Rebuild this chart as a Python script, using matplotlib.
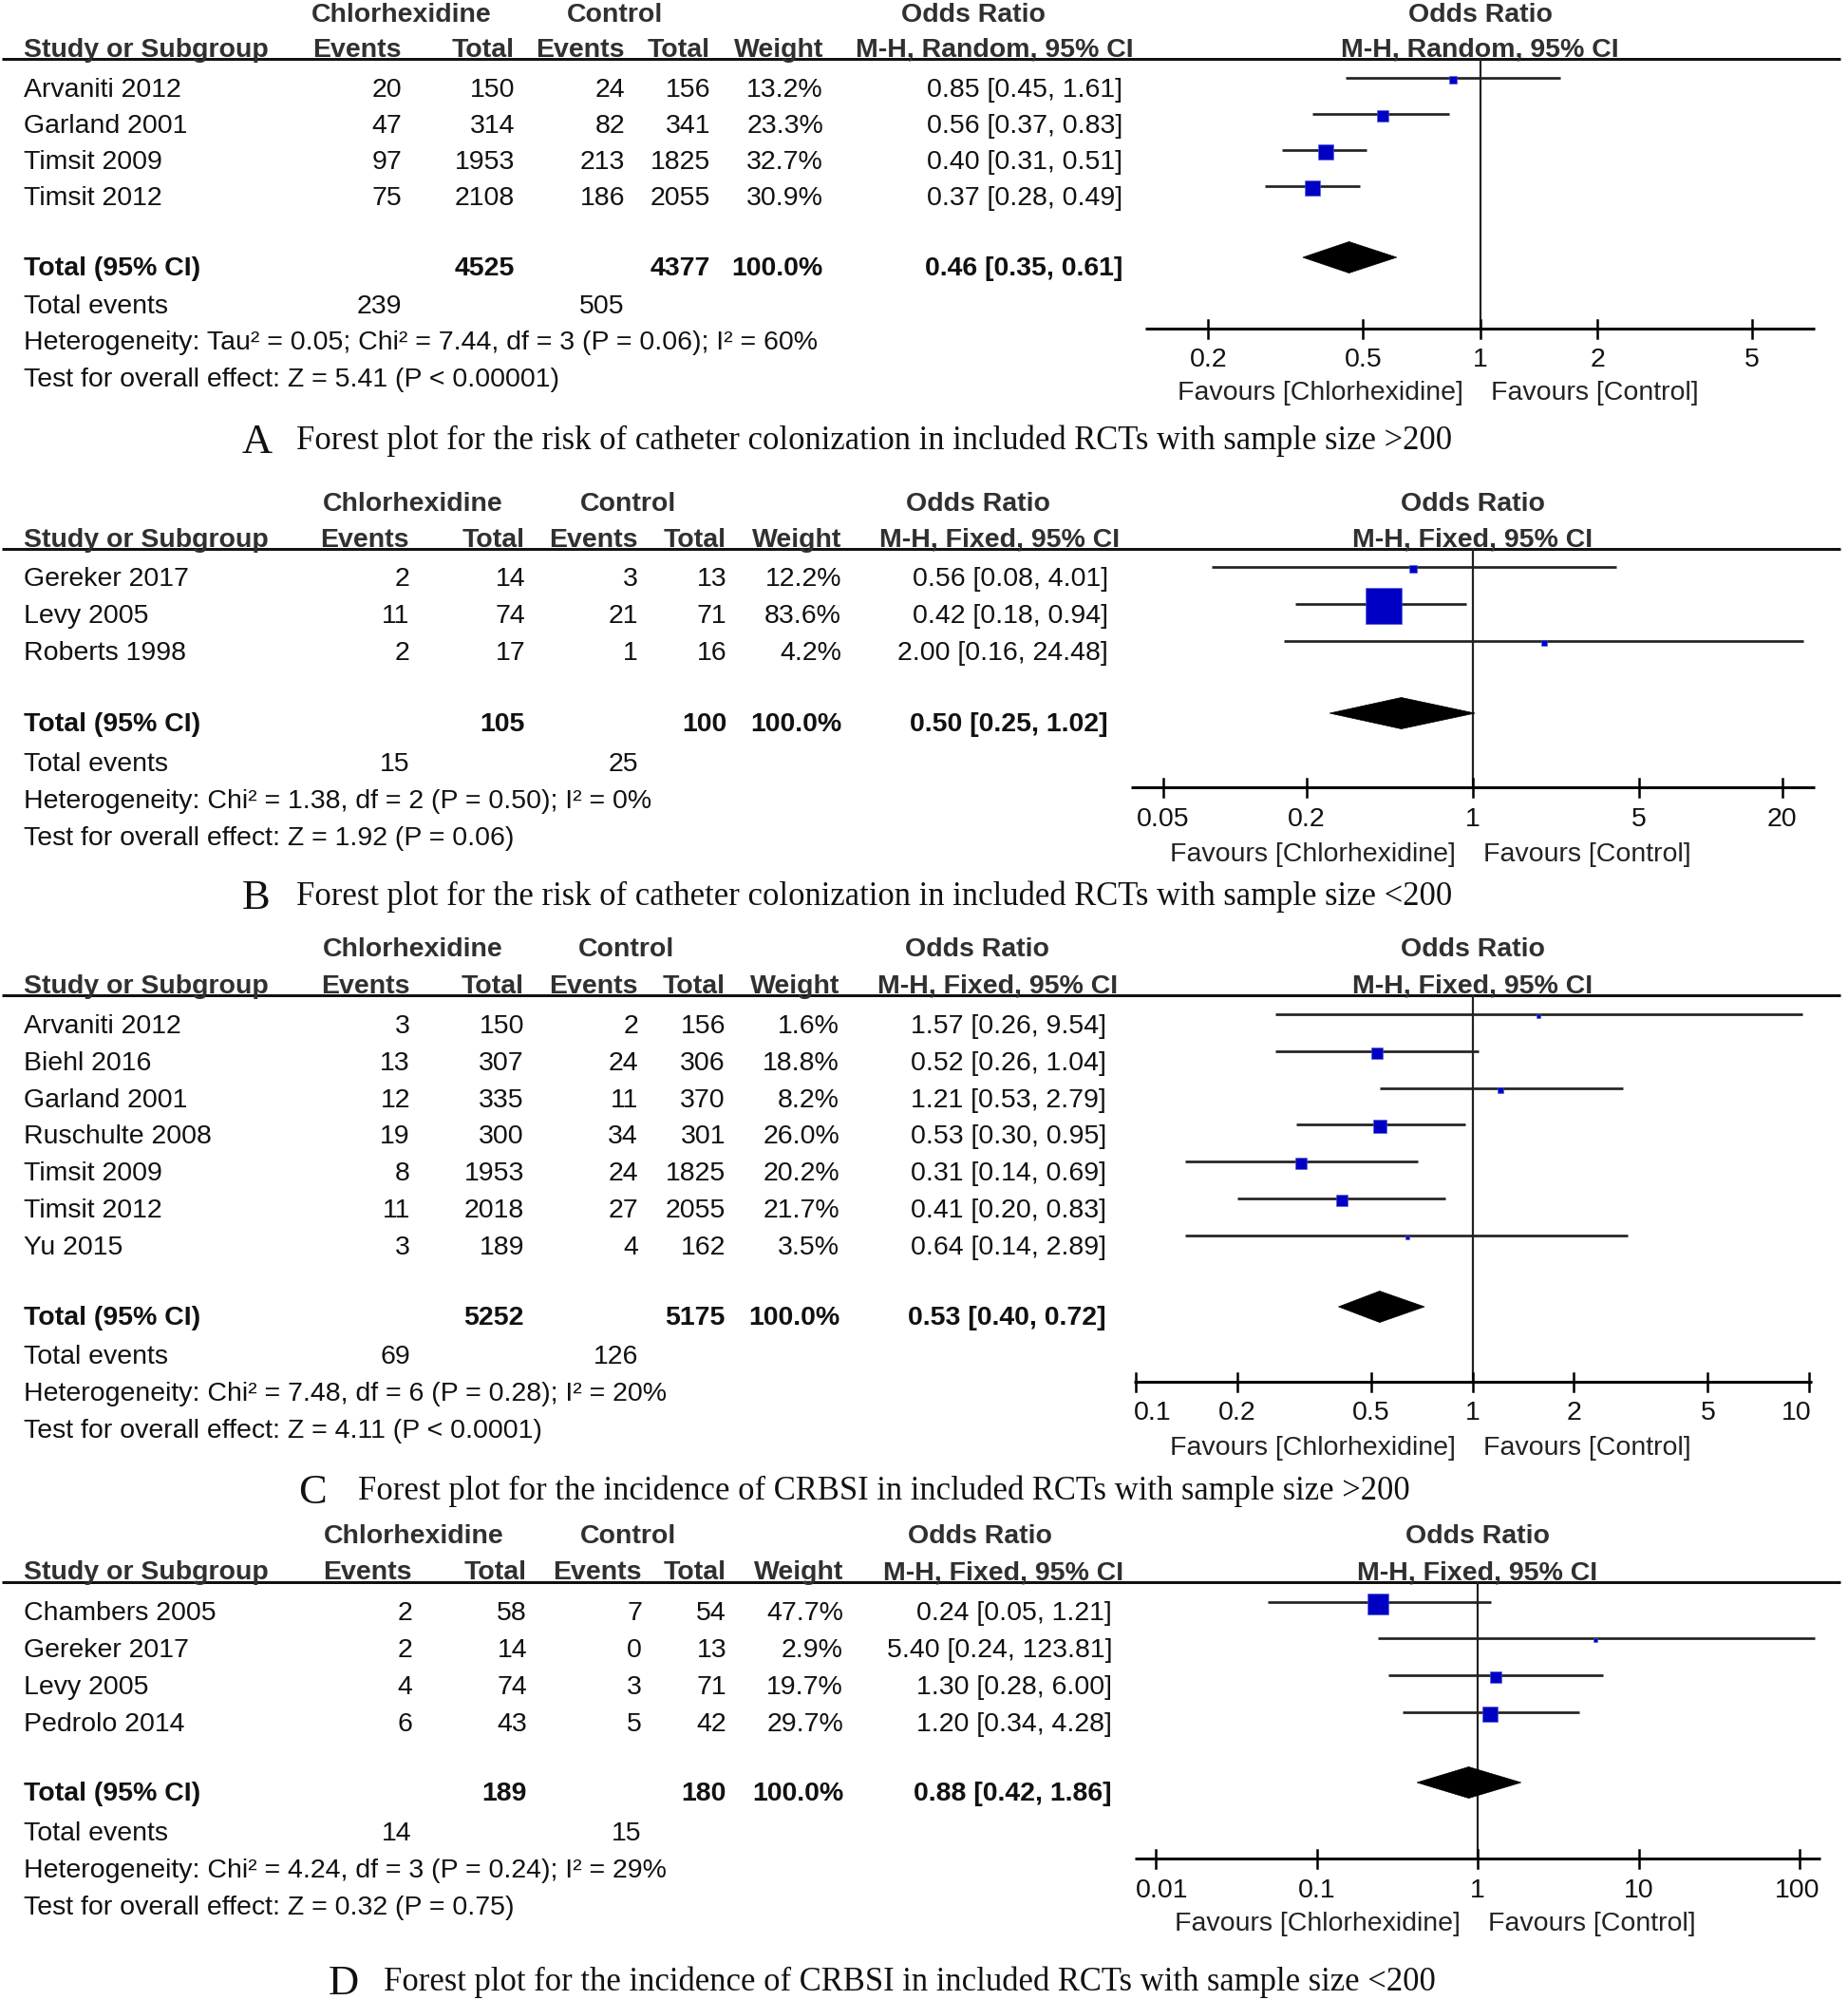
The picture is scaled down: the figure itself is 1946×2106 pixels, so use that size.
import matplotlib
matplotlib.use("Agg")
import matplotlib.pyplot as plt
from matplotlib.patches import Polygon

plt.rcParams['font.family'] = ['Liberation Sans', 'DejaVu Sans']

# ---------------- DATA ----------------
# Panel A
studiesA = ["Arvaniti 2012", "Garland 2001", "Timsit 2009", "Timsit 2012"]
evChlA = [20, 47, 97, 75]
totChlA = [150, 314, 1953, 2108]
evCtlA = [24, 82, 213, 186]
totCtlA = [156, 341, 1825, 2055]
weightA = [13.2, 23.3, 32.7, 30.9]
orA = [0.85, 0.56, 0.40, 0.37]
loA = [0.45, 0.37, 0.31, 0.28]
hiA = [1.61, 0.83, 0.51, 0.49]
totalA = {"chl": 4525, "ctl": 4377, "or": 0.46, "lo": 0.35, "hi": 0.61, "evchl": 239, "evctl": 505}
hetA = "Heterogeneity: Tau\u00b2 = 0.05; Chi\u00b2 = 7.44, df = 3 (P = 0.06); I\u00b2 = 60%"
testA = "Test for overall effect: Z = 5.41 (P < 0.00001)"
methodA = "M-H, Random, 95% CI"
ticksA = [0.2, 0.5, 1, 2, 5]
tickLabA = ["0.2", "0.5", "1", "2", "5"]
captionA = ("A", "Forest plot for the risk of catheter colonization in included RCTs with sample size >200")

# Panel B
studiesB = ["Gereker 2017", "Levy 2005", "Roberts 1998"]
evChlB = [2, 11, 2]
totChlB = [14, 74, 17]
evCtlB = [3, 21, 1]
totCtlB = [13, 71, 16]
weightB = [12.2, 83.6, 4.2]
orB = [0.56, 0.42, 2.00]
loB = [0.08, 0.18, 0.16]
hiB = [4.01, 0.94, 24.48]
totalB = {"chl": 105, "ctl": 100, "or": 0.50, "lo": 0.25, "hi": 1.02, "evchl": 15, "evctl": 25}
hetB = "Heterogeneity: Chi\u00b2 = 1.38, df = 2 (P = 0.50); I\u00b2 = 0%"
testB = "Test for overall effect: Z = 1.92 (P = 0.06)"
methodB = "M-H, Fixed, 95% CI"
ticksB = [0.05, 0.2, 1, 5, 20]
tickLabB = ["0.05", "0.2", "1", "5", "20"]
captionB = ("B", "Forest plot for the risk of catheter colonization in included RCTs with sample size <200")

# Panel C
studiesC = ["Arvaniti 2012", "Biehl 2016", "Garland 2001", "Ruschulte 2008", "Timsit 2009", "Timsit 2012", "Yu 2015"]
evChlC = [3, 13, 12, 19, 8, 11, 3]
totChlC = [150, 307, 335, 300, 1953, 2018, 189]
evCtlC = [2, 24, 11, 34, 24, 27, 4]
totCtlC = [156, 306, 370, 301, 1825, 2055, 162]
weightC = [1.6, 18.8, 8.2, 26.0, 20.2, 21.7, 3.5]
orC = [1.57, 0.52, 1.21, 0.53, 0.31, 0.41, 0.64]
loC = [0.26, 0.26, 0.53, 0.30, 0.14, 0.20, 0.14]
hiC = [9.54, 1.04, 2.79, 0.95, 0.69, 0.83, 2.89]
totalC = {"chl": 5252, "ctl": 5175, "or": 0.53, "lo": 0.40, "hi": 0.72, "evchl": 69, "evctl": 126}
hetC = "Heterogeneity: Chi\u00b2 = 7.48, df = 6 (P = 0.28); I\u00b2 = 20%"
testC = "Test for overall effect: Z = 4.11 (P < 0.0001)"
methodC = "M-H, Fixed, 95% CI"
ticksC = [0.1, 0.2, 0.5, 1, 2, 5, 10]
tickLabC = ["0.1", "0.2", "0.5", "1", "2", "5", "10"]
captionC = ("C", "Forest plot for the incidence of CRBSI in included RCTs with sample size >200")

# Panel D
studiesD = ["Chambers 2005", "Gereker 2017", "Levy 2005", "Pedrolo 2014"]
evChlD = [2, 2, 4, 6]
totChlD = [58, 14, 74, 43]
evCtlD = [7, 0, 3, 5]
totCtlD = [54, 13, 71, 42]
weightD = [47.7, 2.9, 19.7, 29.7]
orD = [0.24, 5.40, 1.30, 1.20]
loD = [0.05, 0.24, 0.28, 0.34]
hiD = [1.21, 123.81, 6.00, 4.28]
totalD = {"chl": 189, "ctl": 180, "or": 0.88, "lo": 0.42, "hi": 1.86, "evchl": 14, "evctl": 15}
hetD = "Heterogeneity: Chi\u00b2 = 4.24, df = 3 (P = 0.24); I\u00b2 = 29%"
testD = "Test for overall effect: Z = 0.32 (P = 0.75)"
methodD = "M-H, Fixed, 95% CI"
ticksD = [0.01, 0.1, 1, 10, 100]
tickLabD = ["0.01", "0.1", "1", "10", "100"]
captionD = ("D", "Forest plot for the incidence of CRBSI in included RCTs with sample size <200")

# ---------------- LAYOUT (pixels, top-down) ----------------
W, H, DPI = 1946, 2106, 100
FS = 20.5
BOFF = 10          # text visual centre -> baseline
HEAD_C = '#303030'
BODY_C = '#111111'
LINE_C = '#222222'
BOX_C = '#0000C4'

layouts = {
    "A": dict(h1=13, h2=50, rule=62, row0=91.5, step=38.3, tot=280, ev=320, het=358, test=397,
              cols=[423, 542, 658, 748, 867, 1182], chl=423, ctl=648, orc=1025,
              x1=1558.7, ppd=409.6, r=0.861, axy=346, tly=376, fav=411,
              cap=461, capL=255, capT=312),
    "B": dict(h1=528, h2=566, rule=578, row0=607, step=39.0, tot=760, ev=802, het=841, test=880,
              cols=[431, 553, 672, 765, 886, 1167], chl=435, ctl=661, orc=1030,
              x1=1551, ppd=250.5, r=1.437, axy=829, tly=860, fav=897,
              cap=941, capL=255, capT=312),
    "C": dict(h1=997, h2=1036, rule=1048, row0=1078, step=38.8, tot=1385, ev=1426, het=1465, test=1504,
              cols=[432, 552, 672, 764, 884, 1165], chl=435, ctl=660, orc=1029,
              x1=1550.6, ppd=354.6, r=1.007, axy=1455, tly=1485, fav=1522,
              cap=1567, capL=314, capT=377),
    "D": dict(h1=1615, h2=1653, rule=1666, row0=1696.5, step=38.7, tot=1886, ev=1928, het=1967, test=2006,
              cols=[434, 555, 676, 765, 888, 1171], chl=436, ctl=662, orc=1032,
              x1=1556, ppd=169.5, r=2.127, axy=1957, tly=1988, fav=2023,
              cap=2084, capL=346, capT=404),
}

panels = [
    ("A", studiesA, evChlA, totChlA, evCtlA, totCtlA, weightA, orA, loA, hiA, totalA, hetA, testA, methodA, ticksA, tickLabA, captionA),
    ("B", studiesB, evChlB, totChlB, evCtlB, totCtlB, weightB, orB, loB, hiB, totalB, hetB, testB, methodB, ticksB, tickLabB, captionB),
    ("C", studiesC, evChlC, totChlC, evCtlC, totCtlC, weightC, orC, loC, hiC, totalC, hetC, testC, methodC, ticksC, tickLabC, captionC),
    ("D", studiesD, evChlD, totChlD, evCtlD, totCtlD, weightD, orD, loD, hiD, totalD, hetD, testD, methodD, ticksD, tickLabD, captionD),
]

fig = plt.figure(figsize=(W / DPI, H / DPI), dpi=DPI)
base = fig.add_axes([0, 0, 1, 1])
base.set_xlim(0, W)
base.set_ylim(H, 0)
base.axis('off')


def txt(x, yc, s, ha='left', bold=False, color=BODY_C, size=FS, family=None, ax=None):
    a = ax if ax is not None else base
    kw = {}
    if family is not None:
        kw['family'] = family
    return a.text(x, yc + BOFF * size / FS, s, ha=ha, va='baseline', fontsize=size,
                  fontweight='bold' if bold else 'normal', color=color, clip_on=False, **kw)


def px2pt(p):
    return p * 72.0 / DPI


for (key, studies, evc, totc, evk, totk, wts, ors, los, his, tot, het, test, method,
     ticks, tlabs, caption) in panels:
    L = layouts[key]
    cols = L['cols']
    # headers
    txt(L['chl'], L['h1'], "Chlorhexidine", ha='center', bold=True, color=HEAD_C)
    txt(L['ctl'], L['h1'], "Control", ha='center', bold=True, color=HEAD_C)
    txt(L['orc'], L['h1'], "Odds Ratio", ha='center', bold=True, color=HEAD_C)
    txt(L['x1'], L['h1'], "Odds Ratio", ha='center', bold=True, color=HEAD_C)
    txt(25, L['h2'], "Study or Subgroup", bold=True, color=HEAD_C)
    for cx, lab in zip(cols[:5], ["Events", "Total", "Events", "Total", "Weight"]):
        txt(cx, L['h2'], lab, ha='right', bold=True, color=HEAD_C)
    txt(cols[5] + 12, L['h2'], method, ha='right', bold=True, color=HEAD_C)
    txt(L['x1'], L['h2'], method, ha='center', bold=True, color=HEAD_C)
    base.plot([2, 1938], [L['rule'], L['rule']], color='#111111', lw=px2pt(3), solid_capstyle='butt')

    # study rows
    rows_y = [L['row0'] + i * L['step'] for i in range(len(studies))]
    for y, s, a, b, c, d, w, o, lo, hi in zip(rows_y, studies, evc, totc, evk, totk, wts, ors, los, his):
        txt(25, y, s)
        txt(cols[0], y, str(a), ha='right')
        txt(cols[1], y, str(b), ha='right')
        txt(cols[2], y, str(c), ha='right')
        txt(cols[3], y, str(d), ha='right')
        txt(cols[4], y, f"{w:.1f}%", ha='right')
        txt(cols[5], y, f"{o:.2f} [{lo:.2f}, {hi:.2f}]", ha='right')

    # total row
    txt(25, L['tot'], "Total (95% CI)", bold=True)
    txt(cols[1], L['tot'], str(tot['chl']), ha='right', bold=True)
    txt(cols[3], L['tot'], str(tot['ctl']), ha='right', bold=True)
    txt(cols[4], L['tot'], "100.0%", ha='right', bold=True)
    txt(cols[5], L['tot'], f"{tot['or']:.2f} [{tot['lo']:.2f}, {tot['hi']:.2f}]", ha='right', bold=True)
    txt(25, L['ev'], "Total events")
    txt(cols[0], L['ev'], str(tot['evchl']), ha='right')
    txt(cols[2], L['ev'], str(tot['evctl']), ha='right')
    txt(25, L['het'], het)
    txt(25, L['test'], test)

    # forest axes: x range = axis line extent, y in figure pixels
    left = L['x1'] - L['r'] * L['ppd']
    right = L['x1'] + L['r'] * L['ppd']
    fa = fig.add_axes([left / W, 0, (right - left) / W, 1])
    fa.set_xscale('log')
    xmin, xmax = 10 ** (-L['r']), 10 ** (L['r'])
    fa.set_xlim(xmin, xmax)
    fa.set_ylim(H, 0)
    fa.axis('off')
    fa.patch.set_alpha(0)

    # null line
    fa.plot([1, 1], [L['rule'], L['axy']], color=LINE_C, lw=px2pt(2.2), clip_on=False)
    # CIs and boxes
    for y, w, o, lo, hi in zip(rows_y, wts, ors, los, his):
        fa.plot([lo, hi], [y - 10, y - 10], color=LINE_C, lw=px2pt(2.7), clip_on=False,
                solid_capstyle='butt', zorder=3)
        side = 3.3 + 0.41 * w
        fa.scatter([o], [y - 8], marker='s', s=px2pt(side) ** 2, color=BOX_C,
                   edgecolors='#4d5bd6', linewidths=0.4, zorder=4, clip_on=False)
    # diamond
    yd = L['tot'] - 9
    hh = 16.5
    fa.add_patch(Polygon([(tot['lo'], yd), (tot['or'], yd - hh), (tot['hi'], yd), (tot['or'], yd + hh)],
                         closed=True, facecolor='black', edgecolor='black', lw=0.5, zorder=4, clip_on=False))
    # axis
    fa.plot([xmin, xmax], [L['axy'], L['axy']], color='black', lw=px2pt(3), clip_on=False,
            solid_capstyle='butt')
    for t, lab in zip(ticks, tlabs):
        fa.plot([t, t], [L['axy'] - 9.5, L['axy'] + 9.5], color='black', lw=px2pt(2.5), clip_on=False)
        txt(t, L['tly'], lab, ha='center', ax=fa)
    fig.canvas.draw()
    renderer = fig.canvas.get_renderer()
    for tt in list(fa.texts):
        bb = tt.get_window_extent(renderer)
        if bb.x0 < left - 1:
            tt.set_x(xmin)
            tt.set_ha('left')
        elif bb.x1 > right + 1:
            tt.set_x(xmax)
            tt.set_ha('right')
    txt(L['x1'] - 18, L['fav'], "Favours [Chlorhexidine]", ha='right', color='#222222')
    txt(L['x1'] + 11, L['fav'], "Favours [Control]", ha='left', color='#222222')

    # caption
    txt(L['capL'], L['cap'], caption[0], size=32, family=['Liberation Serif'], color='#111111')
    txt(L['capT'], L['cap'], caption[1], size=24.9, family=['Liberation Serif'], color='#111111')

fig.savefig("out.png", dpi=DPI)
